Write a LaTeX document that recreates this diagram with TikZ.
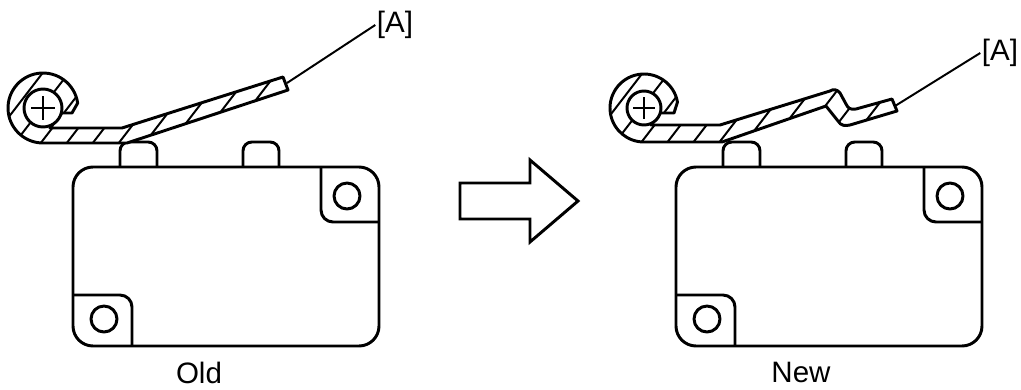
\documentclass[tikz,border=0pt]{standalone}
\usepackage{fontspec}
\setmainfont{Liberation Sans}

\tikzstyle{part}=[line width=2.1pt, line join=round]
\tikzstyle{hatch}=[line width=1.4pt]
\tikzstyle{leader}=[line width=1.4pt]
\tikzstyle{callout}=[font=\fontsize{21}{24}\selectfont, inner sep=1pt]

% lever outlines (pixel grid, y down)
\newcommand{\leverold}{(43,143) -- (127,143) -- (288,90) -- (283,77) -- (122,128) -- (50,128) -- (62,113) -- (72,113) -- (77.66,103.13) arc[start angle=-8, end angle=-270, radius=35] -- cycle}
\newcommand{\levernew}{(644,142) -- (722,142) -- (826,106) -- (838,121) .. controls (841,126) and (845,126) .. (850,125) -- (897,111) -- (892,99) -- (856,109) .. controls (850,110) and (848,108) .. (846,104) -- (840,93) .. controls (837,89) and (833,89) .. (830,91) -- (720,125) -- (651,125) -- (660,113) -- (674,113) -- (677.48,102.10) arc[start angle=-10, end angle=-270, radius=34] -- cycle}

\begin{document}
\begin{tikzpicture}[x=0.025cm, y=-0.025cm]
            \useasboundingbox (0,0) rectangle (1021,389);
            % switch bodies
            \foreach \dx in {0,603} {
              \begin{scope}[shift={(\dx,0)}]
                \draw[part, rounded corners=0.22cm] (120,167) |- (157,142) -- (157,167);
                \draw[part, rounded corners=0.22cm] (243,167) |- (279,142) -- (279,167);
                \draw[part, fill=white, rounded corners=0.5cm] (73,167) rectangle (379,346);
                \draw[part, rounded corners=0.3cm] (321,167) |- (379,222);
                \draw[part, rounded corners=0.3cm] (73,295) -| (132,346);
                \draw[part] (347,196) circle[radius=13];
                \draw[part] (104,319) circle[radius=13];
              \end{scope}
            }
            % old lever
            \begin{scope}
              \clip \leverold;
              \fill[white] (0,60) rectangle (300,150);
              \foreach \x in {-84,-58,...,300} \draw[hatch] (\x,170) -- ++(80,-104);
            \end{scope}
            \draw[part] \leverold;
            \draw[part, fill=white] (43,108) circle[radius=19];
            \draw[hatch] (43,96) -- (43,120) (31,108) -- (55,108);
            % new lever
            \begin{scope}
              \clip \levernew;
              \fill[white] (600,60) rectangle (910,150);
              \foreach \x in {516,542,...,910} \draw[hatch] (\x,170) -- ++(80,-104);
            \end{scope}
            \draw[part] \levernew;
            \draw[part, fill=white] (644,108) circle[radius=17];
            \draw[hatch] (644,97) -- (644,119) (633,108) -- (655,108);
            % labels
            \node[callout] (oldA) at (395,25) {[A]};
            \node[callout] (newA) at (1000,53) {[A]};
            \coordinate (oldtip) at (287,83);
            \coordinate (newtip) at (895,106);
            \draw[leader] (oldtip) -- (oldA.west);
            \draw[leader] (newtip) -- (newA.west);
            \node[callout] (oldcap) at (199,373) {Old};
            \node[callout] (newcap) at (801,372) {New};
            % change arrow
            \draw[part, line join=miter] (460,183) -- (530,183) -- (530,160) -- (578,201) -- (530,242) -- (530,219) -- (460,219) -- cycle;
\end{tikzpicture}
\end{document}
